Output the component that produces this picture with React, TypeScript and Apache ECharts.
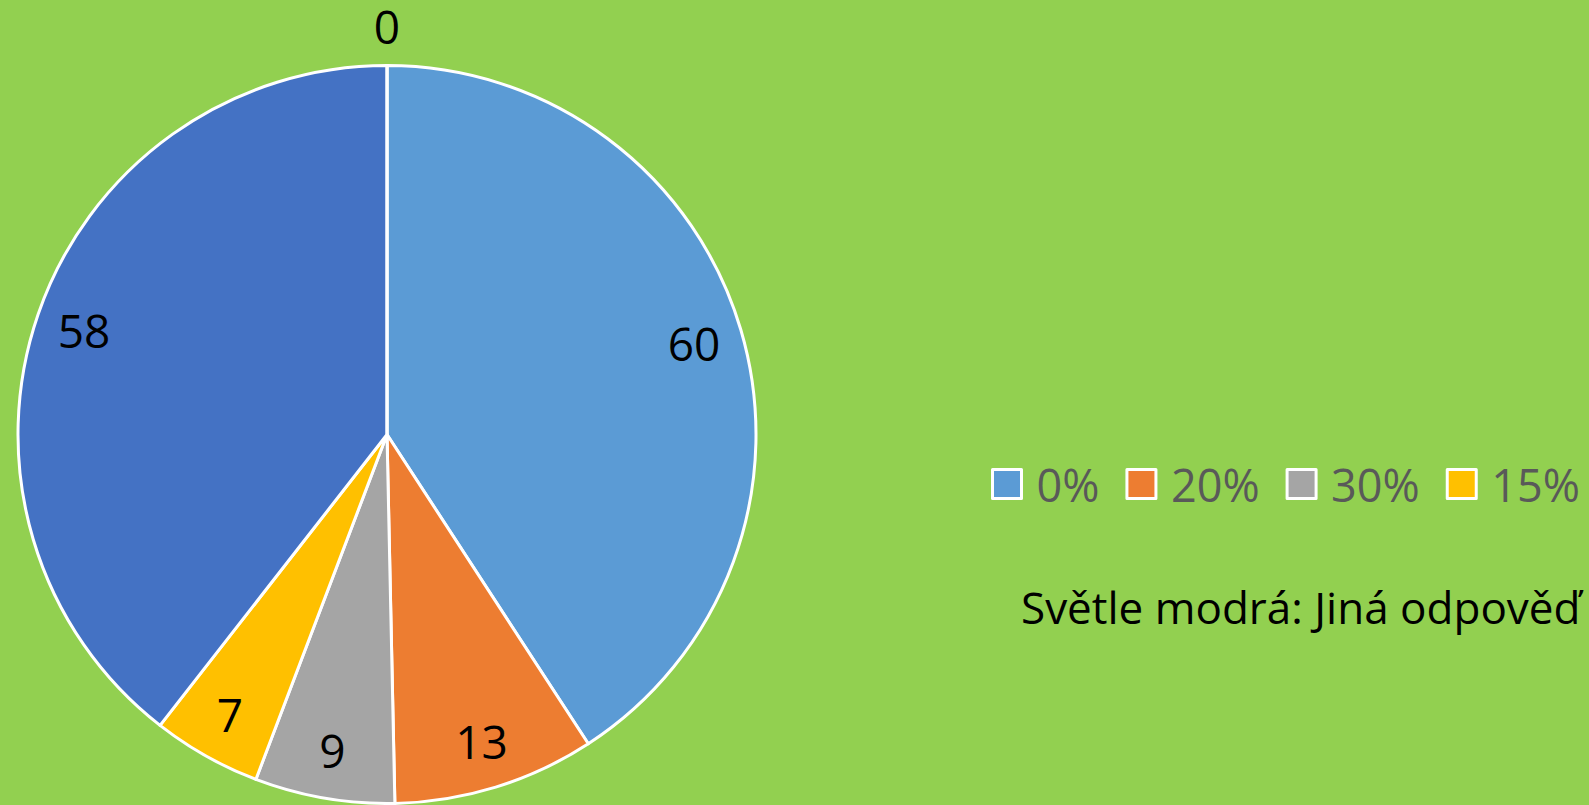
import React, { useEffect, useRef } from "react";
import * as echarts from "echarts";

const sliceNames = ["0%", "20%", "30%", "15%", "Jiná odpověď", "Ostatní"];
const sliceValues = [60, 13, 9, 7, 58, 0];
const sliceColors = ["#5B9BD5", "#ED7D31", "#A5A5A5", "#FFC000", "#4472C4", "#70AD47"];
const legendNames = ["0%", "20%", "30%", "15%"];
const noteText = "Světle modrá: Jiná odpověď";

const FONT = "'Open Sans', 'Noto Sans', sans-serif";

export default function App() {
  const ref = useRef<HTMLDivElement>(null);
  useEffect(() => {
    if (!ref.current) return;
    const chart = echarts.init(ref.current, undefined, { renderer: "svg" });
    const cx = 387;
    const cy = 434.5;
    const r = 369;
    const center = [cx, cy];
    const mainData = sliceNames.map((n, i) => ({
      name: n,
      value: sliceValues[i],
      itemStyle: { color: sliceColors[i] },
    }));
    const labelData = sliceNames.map((n, i) => ({
      name: n,
      value: sliceValues[i],
      label: { show: sliceValues[i] > 0 },
    }));
    const zeroData = sliceNames.map((n, i) => ({
      name: n,
      value: sliceValues[i],
      label: { show: sliceValues[i] === 0 },
    }));
    const labelStyle = {
      position: "inside",
      formatter: "{c}",
      color: "#000000",
      fontFamily: FONT,
      fontSize: 46,
      lineHeight: 40,
    };
    chart.setOption({
      animation: false,
      backgroundColor: "#92D050",
      legend: {
        data: legendNames,
        orient: "horizontal",
        left: 991,
        top: 461,
        width: 700,
        padding: 0,
        icon: "rect",
        itemWidth: 29,
        itemHeight: 29,
        itemGap: 26,
        itemStyle: { borderColor: "#FFFFFF", borderWidth: 3 },
        textStyle: {
          color: "#595959",
          fontFamily: FONT,
          fontSize: 45,
          lineHeight: 46,
          padding: [0, 0, 0, 10],
        },
        selectedMode: false,
      },
      graphic: [
        {
          type: "text",
          left: 1021,
          top: 585,
          style: {
            text: noteText,
            fill: "#000000",
            font: `44px ${FONT}`,
          },
        },
      ],
      series: [
        {
          type: "pie",
          center,
          radius: [0, r],
          startAngle: 90,
          clockwise: true,
          label: { show: false },
          labelLine: { show: false },
          itemStyle: { borderColor: "#FFFFFF", borderWidth: 3 },
          emphasis: { disabled: true },
          data: mainData,
        },
        {
          type: "pie",
          center,
          radius: [r * 0.72, r],
          startAngle: 90,
          clockwise: true,
          silent: true,
          label: labelStyle,
          labelLine: { show: false },
          itemStyle: { color: "rgba(0,0,0,0)", borderWidth: 0 },
          emphasis: { disabled: true },
          data: labelData,
        },
        {
          type: "pie",
          center,
          radius: [r + 20, r + 54],
          startAngle: 90,
          clockwise: true,
          silent: true,
          label: labelStyle,
          labelLine: { show: false },
          itemStyle: { color: "rgba(0,0,0,0)", borderWidth: 0 },
          emphasis: { disabled: true },
          data: zeroData,
        },
      ],
    });
    return () => chart.dispose();
  }, []);
  return (
    <div
      ref={ref}
      style={{ position: "fixed", left: 0, top: 0, width: 1589, height: 805 }}
    />
  );
}
